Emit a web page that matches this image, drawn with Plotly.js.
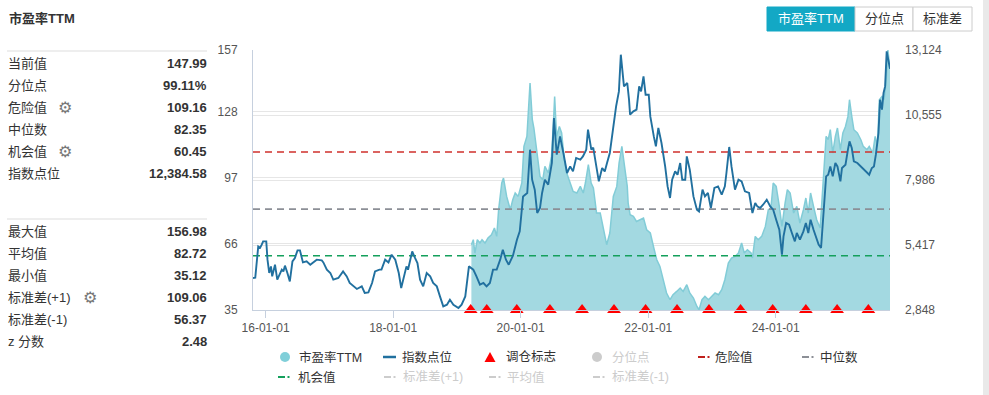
<!DOCTYPE html>
<html><head><meta charset="utf-8">
<script src="https://cdn.plot.ly/plotly-3.0.1.min.js"></script>
<style>html,body{margin:0;padding:0;background:#fff;overflow:hidden}#chart{width:989px;height:395px}</style>
</head><body><div id="chart"></div>
<script>
// ---------------- data ----------------
const idxDates = ['2015-10-21','2015-11-03','2015-11-20','2015-12-01','2015-12-10','2015-12-18','2016-01-05','2016-01-12','2016-01-22','2016-02-01','2016-02-08','2016-02-24','2016-03-08','2016-04-03','2016-04-12','2016-04-21','2016-05-05','2016-05-19','2016-06-03','2016-06-17','2016-07-02','2016-07-16','2016-08-02','2016-08-23','2016-09-13','2016-10-02','2016-10-20','2016-11-18','2016-11-27','2016-12-17','2017-01-06','2017-01-23','2017-02-21','2017-03-20','2017-04-10','2017-04-27','2017-05-17','2017-06-07','2017-07-05','2017-07-22','2017-08-12','2017-09-02','2017-09-19','2017-10-14','2017-10-26','2017-11-16','2017-12-05','2017-12-23','2018-01-13','2018-02-02','2018-02-16','2018-03-06','2018-03-18','2018-03-27','2018-04-08','2018-04-20','2018-05-06','2018-05-20','2018-06-04','2018-06-22','2018-07-12','2018-08-01','2018-08-18','2018-09-08','2018-09-26','2018-10-15','2018-11-05','2018-11-22','2018-12-12','2019-01-10','2019-01-28','2019-02-18','2019-03-11','2019-04-05','2019-04-23','2019-05-13','2019-06-02','2019-06-20','2019-07-09','2019-07-27','2019-08-17','2019-09-06','2019-09-21','2019-10-09','2019-10-25','2019-11-18','2019-12-11','2019-12-27','2020-01-15','2020-02-08','2020-02-24','2020-03-07','2020-03-22','2020-04-05','2020-04-21','2020-05-03','2020-05-19','2020-06-07','2020-06-28','2020-07-10','2020-07-26','2020-08-14','2020-09-02','2020-09-23','2020-10-11','2020-10-27','2020-11-14','2020-12-08','2020-12-23','2021-01-11','2021-01-21','2021-02-09','2021-02-20','2021-03-08','2021-03-24','2021-04-12','2021-04-27','2021-05-10','2021-05-26','2021-06-13','2021-07-01','2021-07-17','2021-07-28','2021-08-15','2021-09-03','2021-09-13','2021-09-19','2021-10-08','2021-10-26','2021-11-10','2021-11-21','2021-12-05','2021-12-17','2022-01-04','2022-01-13','2022-02-02','2022-02-14','2022-02-28','2022-03-18','2022-04-08','2022-04-22','2022-05-06','2022-05-18','2022-06-04','2022-06-18','2022-07-03','2022-07-15','2022-08-01','2022-08-10','2022-08-27','2022-09-17','2022-10-07','2022-10-19','2022-11-08','2022-11-22','2022-12-09','2022-12-26','2023-01-15','2023-02-05','2023-02-26','2023-03-16','2023-03-25','2023-04-10','2023-04-23','2023-05-13','2023-06-02','2023-06-20','2023-07-09','2023-08-02','2023-08-21','2023-09-06','2023-09-18','2023-10-04','2023-10-21','2023-11-11','2023-12-01','2023-12-18','2024-01-04','2024-01-22','2024-02-06','2024-02-15','2024-03-01','2024-03-18','2024-04-03','2024-04-20','2024-05-01','2024-05-19','2024-06-08','2024-06-22','2024-07-06','2024-07-19','2024-08-05','2024-08-19','2024-09-03','2024-09-17','2024-09-26','2024-10-05','2024-10-16','2024-10-28','2024-11-09','2024-11-23','2024-12-08','2024-12-20','2025-01-06','2025-01-15','2025-02-04','2025-02-18','2025-02-27','2025-03-12','2025-03-24','2025-04-13','2025-05-03','2025-05-17','2025-06-07','2025-06-20','2025-07-05','2025-07-17','2025-07-28','2025-08-12','2025-08-21','2025-09-01','2025-09-10','2025-09-19','2025-09-28','2025-10-08','2025-10-17'];
const idxValues = [4114,4125,5362,5311,5430,5560,5560,4837,4311,4572,4177,4639,4046,4442,4374,4600,4311,3979,4770,4904,5204,5204,4730,4770,4639,4730,4837,4809,4730,4442,4311,4046,4114,4374,4177,3916,3782,3679,3782,3521,3545,3916,4374,4442,4442,4837,4730,5034,4837,4311,3718,4311,4572,4442,4837,5165,4904,4706,4046,3782,4311,4177,3916,3782,3386,2991,3058,3256,3058,2928,3058,3386,4572,4442,4177,3849,3916,3782,3916,4442,4442,4837,5232,4837,4639,4995,5627,5955,7338,7473,9184,7998,7603,6682,6880,7473,7998,7801,8658,10437,8986,9710,9054,8263,8524,8326,8856,8789,8919,9184,9974,9184,9263,8524,7931,8461,8326,8658,9054,9974,10895,11488,12938,11686,11820,11160,10567,10698,10765,11686,11488,12081,11358,11358,10500,9710,9314,10042,9449,8524,7734,7275,7998,8326,8196,8658,7998,7998,8919,8394,7338,6813,6746,7603,7338,7473,6880,7670,7734,7406,7734,8263,9291,8524,7603,7998,7931,7536,7473,6682,7078,6943,6880,7010,7208,6943,6813,6418,6022,5034,5758,6287,6220,5892,5560,5892,5627,5955,6287,5892,6418,6022,5758,5430,5299,6153,7338,8129,8196,8524,8129,8658,8524,7931,8461,8591,9184,9512,9251,8722,8658,8524,8394,8263,8196,8461,8524,8986,9844,11160,10765,11425,11686,13069,12674,12385];

const peDates = ['2019-03-25','2019-04-05','2019-04-14','2019-04-28','2019-05-13','2019-05-25','2019-06-11','2019-06-28','2019-07-18','2019-08-04','2019-08-17','2019-08-28','2019-09-15','2019-09-25','2019-10-13','2019-11-03','2019-11-17','2019-12-01','2019-12-18','2020-01-08','2020-01-20','2020-02-06','2020-02-24','2020-03-08','2020-03-17','2020-04-03','2020-04-21','2020-05-07','2020-05-19','2020-06-08','2020-06-26','2020-07-07','2020-07-14','2020-07-25','2020-08-10','2020-08-23','2020-09-07','2020-09-21','2020-10-11','2020-10-28','2020-11-18','2020-12-08','2020-12-25','2021-01-06','2021-01-23','2021-02-08','2021-02-21','2021-03-11','2021-04-01','2021-04-18','2021-05-08','2021-05-26','2021-06-15','2021-07-05','2021-07-18','2021-08-03','2021-08-17','2021-09-03','2021-09-08','2021-09-19','2021-10-08','2021-10-26','2021-11-15','2021-12-05','2021-12-23','2022-01-13','2022-02-02','2022-02-19','2022-03-09','2022-03-26','2022-04-16','2022-05-06','2022-05-23','2022-06-13','2022-07-03','2022-07-20','2022-08-10','2022-08-27','2022-09-17','2022-10-07','2022-10-19','2022-11-05','2022-11-22','2022-12-12','2023-01-02','2023-01-19','2023-02-08','2023-02-26','2023-03-16','2023-04-05','2023-04-23','2023-05-13','2023-06-02','2023-06-20','2023-07-05','2023-07-23','2023-08-13','2023-08-21','2023-09-06','2023-09-23','2023-10-13','2023-11-03','2023-11-20','2023-12-05','2023-12-18','2024-01-04','2024-01-22','2024-02-06','2024-02-24','2024-03-08','2024-03-24','2024-04-13','2024-05-01','2024-05-19','2024-06-08','2024-06-22','2024-07-06','2024-07-19','2024-08-05','2024-08-23','2024-09-12','2024-09-21','2024-10-02','2024-10-16','2024-10-28','2024-11-09','2024-11-23','2024-12-08','2024-12-20','2025-01-06','2025-01-20','2025-02-04','2025-02-18','2025-02-27','2025-03-12','2025-03-24','2025-04-13','2025-05-03','2025-05-17','2025-06-07','2025-06-20','2025-07-10','2025-07-24','2025-08-06','2025-08-17','2025-09-01','2025-09-13','2025-09-24','2025-10-05','2025-10-12','2025-10-17'];
const peValues = [65.63,67.98,61.74,67.98,66.43,67.98,66.43,68.78,70.32,73.47,69.53,82.06,94.59,96.93,88.30,82.06,86.75,89.89,88.30,94.59,111.76,116.45,141.51,124.29,120.39,108.66,97.68,96.13,102.37,99.28,107.07,122.74,135.22,116.45,121.14,118.05,105.52,99.28,94.59,90.64,89.89,92.99,89.89,94.59,103.17,94.59,92.24,80.51,80.51,74.22,65.63,71.12,88.30,92.99,103.97,111.76,102.37,92.99,85.20,79.71,78.91,76.57,77.36,78.16,72.67,71.12,64.08,58.59,55.45,49.21,42.97,39.82,42.17,43.72,45.31,43.72,46.86,42.97,40.62,36.68,35.12,39.82,41.37,39.82,41.37,42.97,42.17,44.51,49.21,57.04,59.39,60.14,61.74,66.43,61.74,63.28,61.74,59.39,69.53,67.98,69.53,74.22,82.06,82.85,94.59,92.99,83.60,74.22,85.20,91.44,89.89,80.51,83.60,75.81,82.06,87.55,80.51,89.89,83.60,77.36,73.47,83.60,100.83,116.45,114.90,119.60,108.66,116.45,120.39,110.21,118.05,121.14,125.84,133.67,125.84,119.60,118.05,114.90,111.76,110.21,111.76,108.66,116.45,111.76,133.67,135.22,133.67,141.51,156.98,150.50,147.99];

const flagDates = ['2019-03-21','2019-06-21','2019-12-10','2020-06-17','2020-12-18','2021-06-19','2021-12-17','2022-06-15','2022-12-15','2023-06-14','2023-12-15','2024-06-22','2024-12-18','2025-06-15'];

const peTickVals = [35,66,97,128,157];
const peTickText = ['35','66','97','128','157'];
const idxTickVals = [2848,5417,7986,10555,13124];
const idxTickText = ['2,848','5,417','7,986','10,555','13,124'];

const dangerValue = 109.16;
const medianValue = 82.35;
const chanceValue = 60.45;

const chartTitle = '市盈率TTM';
const statLabelsTop = ['当前值','分位点','危险值','中位数','机会值','指数点位'];
const statValuesTop = ['147.99','99.11%','109.16','82.35','60.45','12,384.58'];
const statLabelsBottom = ['最大值','平均值','最小值','标准差(+1)','标准差(-1)','z 分数'];
const statValuesBottom = ['156.98','82.72','35.12','109.06','56.37','2.48'];
const buttonLabels = ['市盈率TTM','分位点','标准差'];
const legendRow1 = ['市盈率TTM','指数点位','调仓标志','分位点','危险值','中位数'];
const legendRow2 = ['机会值','标准差(+1)','平均值','标准差(-1)'];

// ---------------- geometry ----------------
const W = 989, H = 395, L = 253, R = 890, T = 50, B = 310;
const fx = p => (p - L) / (R - L);
const fy = p => (B - p) / (B - T);
const FONT = "'Liberation Sans', 'Noto Sans CJK SC', sans-serif";

const C_AREA = '#a3d9e1', C_AREA_LINE = '#82ccd7', C_IDX = '#21709f';
const C_RED = '#d0302c', C_GREY = '#8c8f96', C_GREEN = '#14a05c', C_OFF = '#cccccc';

const xMin = idxDates[0], xMax = idxDates[idxDates.length - 1];
const peRange = [peTickVals[0], peTickVals[peTickVals.length - 1]];
const idxRange = [idxTickVals[0], idxTickVals[idxTickVals.length - 1]];

function hline(v, color) {
  return {x: [xMin, xMax], y: [v, v], type: 'scatter', mode: 'lines', yaxis: 'y',
    line: {color: color, width: 1.6, dash: '7px,5px'}, hoverinfo: 'skip'};
}

const traces = [
  {x: peDates, y: peValues, type: 'scatter', mode: 'lines', yaxis: 'y', fill: 'tozeroy',
   fillcolor: C_AREA, line: {color: C_AREA_LINE, width: 1.5}, name: '市盈率TTM'},
  hline(dangerValue, C_RED),
  hline(medianValue, C_GREY),
  hline(chanceValue, C_GREEN),
  {x: flagDates, y: flagDates.map(() => peRange[0]), type: 'scatter', mode: 'markers', yaxis: 'y',
   marker: {symbol: 'triangle-up', size: 12, color: '#ff0000'}, cliponaxis: false, name: '调仓标志'},
  {x: idxDates, y: idxValues, type: 'scatter', mode: 'lines', yaxis: 'y2',
   line: {color: C_IDX, width: 1.9}, name: '指数点位'}
];

const annotations = [];
const shapes = [];
function text(t, x, y, opts) {
  annotations.push(Object.assign({text: t, x: fx(x), y: fy(y), xref: 'paper', yref: 'paper',
    showarrow: false, xanchor: 'left', yanchor: 'middle',
    font: {family: FONT, size: 13, color: '#333'}}, opts || {}));
}
function rect(x0, y0, x1, y1, fill, line) {
  shapes.push({type: 'rect', xref: 'paper', yref: 'paper', x0: fx(x0), x1: fx(x1), y0: fy(y0), y1: fy(y1),
    fillcolor: fill, line: line || {width: 0}, layer: 'above'});
}
function seg(x0, y0, x1, y1, color, w) {
  shapes.push({type: 'line', xref: 'paper', yref: 'paper', x0: fx(x0), x1: fx(x1), y0: fy(y0), y1: fy(y1),
    line: {color: color, width: w}, layer: 'above'});
}

// title
text('<b>' + chartTitle + '</b>', 7, 18, {font: {family: FONT, size: 13, color: '#333'}});

// stats panel
seg(7, 51, 207, 51, '#dddddd', 1);
seg(7, 219, 207, 219, '#dddddd', 1);
const rowsTop = [63, 85, 107, 129, 151, 173];
const rowsBottom = [231.5, 253, 275, 297, 319, 341];
statLabelsTop.forEach((s, i) => {
  text(s, 6, rowsTop[i]);
  text('<b>' + statValuesTop[i] + '</b>', 209, rowsTop[i], {xanchor: 'right'});
});
statLabelsBottom.forEach((s, i) => {
  text(s, 6, rowsBottom[i]);
  text('<b>' + statValuesBottom[i] + '</b>', 209, rowsBottom[i], {xanchor: 'right'});
});
const gear = {xanchor: 'center', font: {family: 'DejaVu Sans', size: 16, color: '#777'}};
text('⚙', 64.5, rowsTop[2], gear);
text('⚙', 64.5, rowsTop[4], gear);
text('⚙', 89.5, rowsBottom[3], gear);

// buttons
const btnX = [767, 855, 913, 972];
buttonLabels.forEach((s, i) => {
  const active = i === 0;
  rect(btnX[i], 7, btnX[i + 1], 31, active ? '#13a8c5' : '#ffffff',
       {color: active ? '#13a8c5' : '#cccccc', width: 1});
  text(s, (btnX[i] + btnX[i + 1]) / 2, 19, {xanchor: 'center',
    font: {family: FONT, size: 13, color: active ? '#ffffff' : '#333'}});
});
// right grey strip
rect(983, 0, 989, 395, '#e9e9e9');

// legend
const lg1 = [285, 383, 490, 597, 698, 802];
const lgT1 = [297, 400, 504, 610, 713, 818];
const lg2 = [278, 384, 489, 593];
const lgT2 = [296, 401, 505, 610];
const r1 = 357, r2 = 377;
shapes.push({type: 'circle', xref: 'paper', yref: 'paper', x0: fx(lg1[0] - 5), x1: fx(lg1[0] + 5),
  y0: fy(r1 - 5), y1: fy(r1 + 5), fillcolor: '#80cfd9', line: {width: 0}});
seg(lg1[1], r1, lg1[1] + 13, r1, C_IDX, 2.5);
shapes.push({type: 'path', xref: 'paper', yref: 'paper',
  path: `M ${fx(lg1[2] - 5.5)},${fy(r1 + 5)} L ${fx(lg1[2] + 5.5)},${fy(r1 + 5)} L ${fx(lg1[2])},${fy(r1 - 5)} Z`,
  fillcolor: '#ff0000', line: {width: 0}});
shapes.push({type: 'circle', xref: 'paper', yref: 'paper', x0: fx(lg1[3] - 5), x1: fx(lg1[3] + 5),
  y0: fy(r1 - 5), y1: fy(r1 + 5), fillcolor: C_OFF, line: {width: 0}});
function dashDot(x, y, color) {
  seg(x, y, x + 7, y, color, 2);
  rect(x + 9.5, y - 1, x + 11.5, y + 1, color);
}
dashDot(lg1[4], r1, '#c0201c');
dashDot(lg1[5], r1, C_GREY);
dashDot(lg2[0], r2, C_GREEN);
dashDot(lg2[1], r2, C_OFF);
dashDot(lg2[2], r2, C_OFF);
dashDot(lg2[3], r2, C_OFF);
const lgFont = c => ({family: FONT, size: 12.5, color: c});
legendRow1.forEach((s, i) => text(s, lgT1[i], r1, {font: lgFont(i === 3 ? C_OFF : '#333')}));
legendRow2.forEach((s, i) => text(s, lgT2[i], r2, {font: lgFont(i === 0 ? '#333' : C_OFF)}));

const layout = {
  width: W, height: H,
  margin: {l: L, r: W - R, t: T, b: H - B, pad: 0},
  paper_bgcolor: '#ffffff', plot_bgcolor: '#ffffff',
  showlegend: false,
  font: {family: FONT, size: 12, color: '#555'},
  xaxis: {type: 'date', range: [xMin, xMax], tickformat: '%y-%m-%d', dtick: 'M24', tick0: '2016-01-01',
    ticks: 'outside', ticklen: 7, tickcolor: '#c6d0de', showline: true, linecolor: '#c6d0de', linewidth: 1,
    showgrid: false, zeroline: false, tickfont: {family: FONT, size: 12, color: '#555'}},
  yaxis: {range: peRange, tickvals: peTickVals, ticktext: peTickText, showgrid: true, gridcolor: '#e6e6e6',
    showline: true, linecolor: '#c6d0de', zeroline: false, ticks: '', ticklabelstandoff: 12,
    tickfont: {family: FONT, size: 12, color: '#555'}},
  yaxis2: {range: idxRange, tickvals: idxTickVals, ticktext: idxTickText, overlaying: 'y', side: 'right',
    showgrid: true, gridcolor: '#e6e6e6', showline: false, zeroline: false, ticks: '', ticklabelstandoff: 14,
    tickfont: {family: FONT, size: 12, color: '#555'}},
  annotations: annotations,
  shapes: shapes
};

Plotly.newPlot('chart', traces, layout, {displayModeBar: false, staticPlot: true});
</script>
</body></html>
